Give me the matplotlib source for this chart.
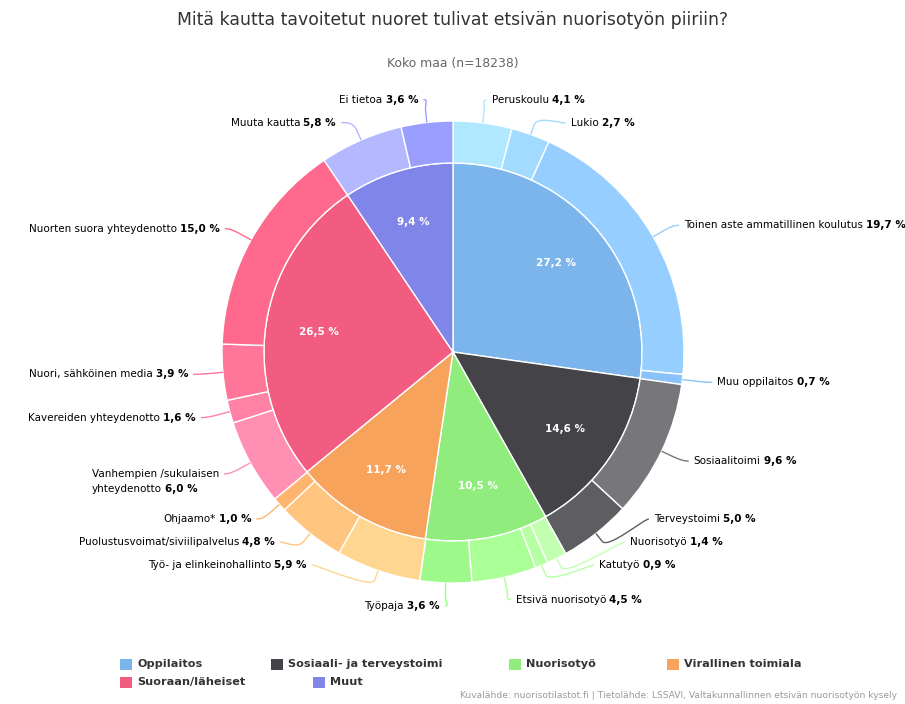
import numpy as np
import matplotlib
matplotlib.use("Agg")
import matplotlib.pyplot as plt
import matplotlib.colors as mcolors
from matplotlib.path import Path
from matplotlib.patches import PathPatch, Rectangle

plt.rcParams["font.family"] = ["DejaVu Sans"]

# =====================================
# Data
# =====================================
TITLE = "Mitä kautta tavoitetut nuoret tulivat etsivän nuorisotyön piiriin?"
SUBTITLE = "Koko maa (n=18238)"
CREDITS = ("Kuvalähde: nuorisotilastot.fi | Tietolähde: LSSAVI, "
           "Valtakunnallinnen etsivän nuorisotyön kysely")

groups = ["Oppilaitos", "Sosiaali- ja terveystoimi", "Nuorisotyö",
          "Virallinen toimiala", "Suoraan/läheiset", "Muut"]
group_values = [27.2, 14.6, 10.5, 11.7, 26.5, 9.4]
group_colors = ["#7cb5ec", "#434348", "#90ed7d", "#f7a35c", "#f15c80", "#8085e9"]

sub_names = ["Peruskoulu", "Lukio", "Toinen aste ammatillinen koulutus", "Muu oppilaitos",
             "Sosiaalitoimi", "Terveystoimi",
             "Nuorisotyö", "Katutyö", "Etsivä nuorisotyö", "Työpaja",
             "Työ- ja elinkeinohallinto", "Puolustusvoimat/siviilipalvelus", "Ohjaamo*",
             "Vanhempien /sukulaisen\nyhteydenotto", "Kavereiden yhteydenotto",
             "Nuori, sähköinen media", "Nuorten suora yhteydenotto",
             "Muuta kautta", "Ei tietoa"]
sub_values = [4.1, 2.7, 19.7, 0.7,
              9.6, 5.0,
              1.4, 0.9, 4.5, 3.6,
              5.9, 4.8, 1.0,
              6.0, 1.6, 3.9, 15.0,
              5.8, 3.6]
sub_parent = [0, 0, 0, 0, 1, 1, 2, 2, 2, 2, 3, 3, 3, 4, 4, 4, 4, 5, 5]

# =====================================
# Layout (pixels)
# =====================================
W, H = 905, 704
PT = 72 / 100          # px -> pt
CX, CY = 453, 352
R_IN, R_OUT = 189, 231
LABEL_R = R_OUT + 30
INNER_LABEL_R = 136
Y_LIMIT = 565
LINE_GAP = 23
LEGEND_POS = [(120, 664), (271, 664), (509, 664), (667, 664), (120, 682), (313, 682)]


def fmt(v):
    return f"{v:.1f}".replace(".", ",") + " %"


def brighten(color, amount):
    return tuple(np.clip(np.array(mcolors.to_rgb(color)) + amount, 0, 1))


def sub_colors():
    colors = []
    for i, c in enumerate(group_colors):
        n = sub_parent.count(i)
        for j in range(n):
            colors.append(brighten(c, 0.2 - (j / n) / 5))
    return colors


def gap_below(item):
    return LINE_GAP + 15 * item["name"].count("\n")


fig = plt.figure(figsize=(W / 100, H / 100), dpi=100)
ax = fig.add_axes([0, 0, 1, 1])

inner, _ = ax.pie(group_values, radius=R_IN, center=(CX, CY), startangle=-90,
                  counterclock=True, colors=group_colors,
                  wedgeprops=dict(edgecolor="white", linewidth=1))
outer, _ = ax.pie(sub_values, radius=R_OUT, center=(CX, CY), startangle=-90,
                  counterclock=True, colors=sub_colors(),
                  wedgeprops=dict(width=R_OUT - R_IN, edgecolor="white", linewidth=1))
ax.set_xlim(0, W)
ax.set_ylim(H, 0)
ax.set_aspect("equal")
ax.axis("off")

renderer = fig.canvas.get_renderer()


def width_of(t):
    return t.get_window_extent(renderer=renderer).width


# inner labels
for w, v in zip(inner, group_values):
    t = np.deg2rad((w.theta1 + w.theta2) / 2)
    ax.text(CX + INNER_LABEL_R * np.cos(t), CY + INNER_LABEL_R * np.sin(t), fmt(v),
            ha="center", va="center", color="white", fontsize=10.4 * PT,
            fontweight="bold")

# outer labels: natural positions, then spread to avoid overlap
labels = []
for w, name, v in zip(outer, sub_names, sub_values):
    t = np.deg2rad((w.theta1 + w.theta2) / 2)
    ux, uy = np.cos(t), np.sin(t)
    labels.append(dict(name=name, val=v, color=w.get_facecolor(), ux=ux, uy=uy,
                       y=CY + (LABEL_R - 7) * uy, right=ux >= 0))

for side in (True, False):
    items = sorted([l for l in labels if l["right"] == side], key=lambda l: l["y"])
    upper = [l for l in items if l["y"] < CY]
    lower = [l for l in items if l["y"] >= CY]
    # upper half: push down from the top
    for i in range(1, len(upper)):
        upper[i]["y"] = max(upper[i]["y"], upper[i - 1]["y"] + gap_below(upper[i - 1]))
    # lower half: crowded group stays above the lowest label
    for l in lower[:-1]:
        l["y"] = min(l["y"], Y_LIMIT)
    for i in range(len(lower) - 2, -1, -1):
        lower[i]["y"] = min(lower[i]["y"], lower[i + 1]["y"] - gap_below(lower[i]))

fs = 10.4 * PT
probe_a = ax.text(0, 0, "nn", fontsize=fs)
probe_b = ax.text(0, 0, "n n", fontsize=fs)
space = width_of(probe_b) - width_of(probe_a)
probe_a.remove()
probe_b.remove()

for l in labels:
    s = 1 if l["right"] else -1
    yc = l["y"] + 7 * l["uy"]
    dx = np.sqrt(max(LABEL_R ** 2 - (yc - CY) ** 2, 0))
    xc = CX + s * dx
    xt = xc + s * 5
    y = l["y"]
    lines = l["name"].split("\n")

    if l["right"]:
        t1 = ax.text(xt, y, lines[0], ha="left", va="center", fontsize=fs, color="black")
        ax.text(xt + width_of(t1) + space, y, fmt(l["val"]), ha="left", va="center",
                fontsize=fs, color="black", fontweight="bold")
    elif len(lines) == 1:
        tv = ax.text(xt, y, fmt(l["val"]), ha="right", va="center", fontsize=fs,
                     color="black", fontweight="bold")
        ax.text(xt - width_of(tv) - space, y, lines[0], ha="right", va="center",
                fontsize=fs, color="black")
    else:
        t1 = ax.text(xt, y, lines[0], ha="right", va="center", fontsize=fs, color="black")
        left = xt - width_of(t1)
        t2 = ax.text(left, y + 15, lines[1], ha="left", va="center", fontsize=fs,
                     color="black")
        ax.text(left + width_of(t2) + space, y + 15, fmt(l["val"]), ha="left",
                va="center", fontsize=fs, color="black", fontweight="bold")

    # connector: label -> break point -> slice edge
    ax_, ay_ = CX + R_OUT * l["ux"], CY + R_OUT * l["uy"]
    bx, by = CX + (R_OUT + 10) * l["ux"], CY + (R_OUT + 10) * l["uy"]
    verts = [(xc, y), (xc - s * 5, y), (2 * bx - ax_, 2 * by - ay_), (bx, by), (ax_, ay_)]
    codes = [Path.MOVETO, Path.CURVE4, Path.CURVE4, Path.CURVE4, Path.LINETO]
    ax.add_patch(PathPatch(Path(verts, codes), facecolor="none",
                           edgecolor=l["color"], linewidth=1))

# title, subtitle
ax.text(CX, 20, TITLE, ha="center", va="center", fontsize=17.2 * PT, color="#333333")
ax.text(CX, 63, SUBTITLE, ha="center", va="center", fontsize=12.4 * PT, color="#666666")

# legend
for (x, y), name, c in zip(LEGEND_POS, groups, group_colors):
    ax.add_patch(Rectangle((x, y - 5.5), 12, 11, facecolor=c, edgecolor="none"))
    ax.text(x + 17, y, name, ha="left", va="center", fontsize=11.2 * PT,
            fontweight="bold", color="#333333")

ax.text(897, 695, CREDITS, ha="right", va="center", fontsize=9.2 * PT, color="#999999")

fig.savefig("out.png", dpi=100, facecolor="white")
